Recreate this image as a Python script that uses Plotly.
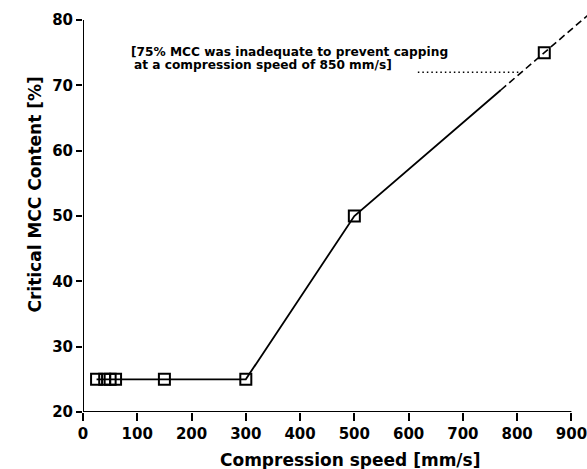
import numpy as np
import plotly.graph_objects as go

# Data
speed = [25, 40, 50, 60, 150, 300, 500, 850]          # mm/s
mcc = [25, 25, 25, 25, 25, 25, 50, 75]                 # critical MCC content %
solid_end_speed = 770       # where solid line turns into dashed extrapolation
dash_end_speed = 930        # extrapolation drawn beyond the axis end
leader_start_speed = 617    # dotted leader from annotation text
leader_end_speed = 808

x_ticks = [0, 100, 200, 300, 400, 500, 600, 700, 800, 900]
y_ticks = [20, 30, 40, 50, 60, 70, 80]

note_line1 = "[75% MCC was inadequate to prevent capping"
note_line2 = "at a compression speed of 850 mm/s]"
x_title = "Compression speed [mm/s]"
y_title = "Critical MCC Content [%]"

# derived line pieces
s = np.array(speed, dtype=float)
m = np.array(mcc, dtype=float)
slope = (m[-1] - m[-2]) / (s[-1] - s[-2])
solid_x = [v for v in speed if v <= 500] + [solid_end_speed]
solid_y = [mm for v, mm in zip(speed, mcc) if v <= 500] + [m[-2] + slope * (solid_end_speed - s[-2])]
dash_x = [solid_end_speed, dash_end_speed]
dash_y = [m[-2] + slope * (x - s[-2]) for x in dash_x]
leader_y = m[-2] + slope * (leader_end_speed - s[-2])

FONT = "DejaVu Sans"
fig = go.Figure()
fig.add_trace(go.Scatter(x=solid_x, y=solid_y, mode="lines",
                         line=dict(color="black", width=1.8), showlegend=False))
fig.add_trace(go.Scatter(x=dash_x, y=dash_y, mode="lines",
                         line=dict(color="black", width=1.6, dash="7px,4px"), showlegend=False))
fig.add_trace(go.Scatter(x=[leader_start_speed, leader_end_speed], y=[leader_y, leader_y], mode="lines",
                         line=dict(color="black", width=1.5, dash="1.5px,3px"), showlegend=False))
fig.add_trace(go.Scatter(x=speed, y=mcc, mode="markers",
                         marker=dict(symbol="square-open", size=11, color="black",
                                     line=dict(width=2, color="black")),
                         showlegend=False, cliponaxis=False))

# axis lines
fig.add_shape(type="line", x0=0, x1=900, y0=20, y1=20, xref="x", yref="y",
              line=dict(color="black", width=2))
fig.add_shape(type="line", x0=0, x1=0, y0=20, y1=80, xref="x", yref="y",
              line=dict(color="black", width=2))

fig.add_annotation(x=84, y=75.15, xref="x", yref="y", text=note_line1, showarrow=False,
                   xanchor="left", yanchor="middle",
                   font=dict(family=FONT, size=12.2, color="black", weight="bold"))
fig.add_annotation(x=91, y=73.1, xref="x", yref="y", text=note_line2, showarrow=False,
                   xanchor="left", yanchor="middle",
                   font=dict(family=FONT, size=12.2, color="black", weight="bold"))

W, H = 587, 469
ml, mr, mt, mb = 82.5, 0, 8, 57
xpx = (W - ml - mr)
ypx = (H - mt - mb)

fig.add_annotation(x=(350 - ml) / xpx, y=(H - mb - 460) / ypx, xref="paper", yref="paper",
                   text=x_title, showarrow=False, xanchor="center", yanchor="middle",
                   font=dict(family=FONT, size=17, color="black", weight="bold"))
fig.add_annotation(x=(34 - ml) / xpx, y=(H - mb - 195) / ypx, xref="paper", yref="paper",
                   text=y_title, showarrow=False, textangle=-90, xanchor="center", yanchor="middle",
                   font=dict(family=FONT, size=17, color="black", weight="bold"))

fig.update_layout(
    width=W, height=H,
    margin=dict(l=ml, r=mr, t=mt, b=mb, pad=0),
    plot_bgcolor="white", paper_bgcolor="white",
    hovermode=False,
    xaxis=dict(range=[0, 900 * xpx / (571.4 - ml)], tickvals=x_ticks, ticks="outside",
               ticklen=8, tickwidth=2, tickcolor="black", showgrid=False, zeroline=False,
               showline=False, automargin=False, ticklabeloverflow="allow",
               tickfont=dict(family=FONT, size=15, color="black", weight="bold")),
    yaxis=dict(range=[20, 20 + 60 * ypx / (412 - mt - 12)], tickvals=y_ticks, ticks="outside",
               ticklen=6, tickwidth=2, tickcolor="black", showgrid=False, zeroline=False,
               showline=False, automargin=False, ticklabeloverflow="allow",
               tickfont=dict(family=FONT, size=15, color="black", weight="bold")),
)
fig.write_html("out.html", config={"displayModeBar": False, "staticPlot": True},
               post_script="document.body.style.margin='0';document.body.style.overflow='hidden';")
